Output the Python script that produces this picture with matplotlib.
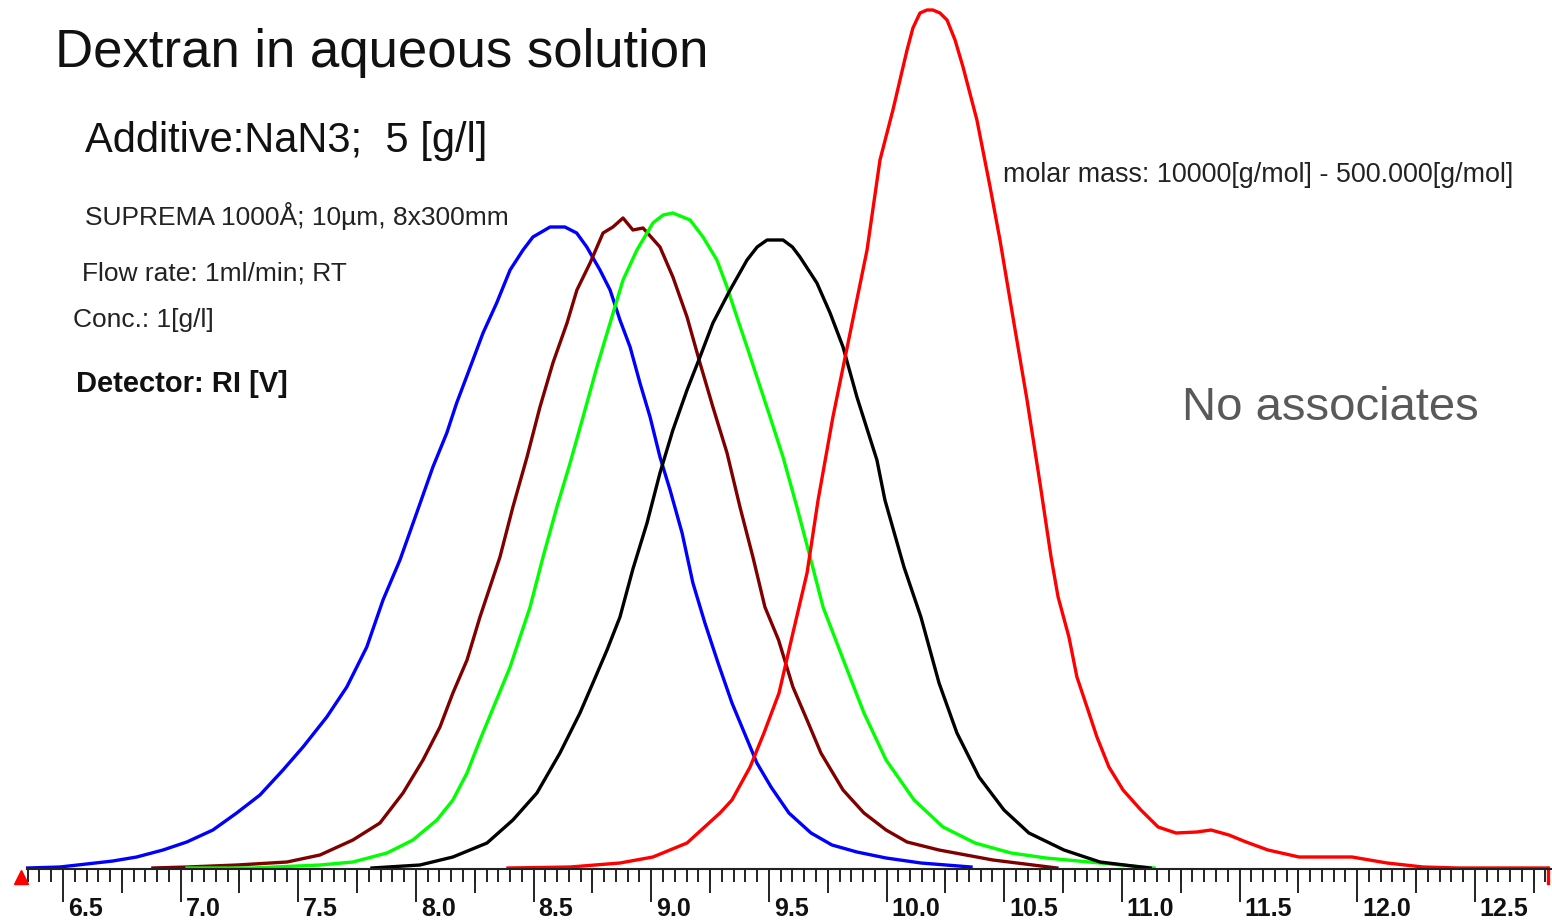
import matplotlib.pyplot as plt
import matplotlib.transforms as mtransforms
from matplotlib.ticker import MultipleLocator

plt.rcParams['font.family'] = ['Liberation Sans', 'DejaVu Sans']

# RI traces: elution volume [ml] and detector signal [mV]
blue_x = [6.35, 6.487, 6.60, 6.712, 6.813, 6.925, 7.026, 7.137, 7.238, 7.337,
          7.435, 7.520, 7.621, 7.706, 7.791, 7.860, 7.932, 8.003, 8.072, 8.131,
          8.173, 8.242, 8.285, 8.343, 8.400, 8.455, 8.497, 8.570, 8.633, 8.683,
          8.726, 8.782, 8.825, 8.867, 8.910, 8.952, 8.995, 9.037, 9.080, 9.131,
          9.177, 9.228, 9.284, 9.343, 9.403, 9.449, 9.509, 9.585, 9.679, 9.768,
          9.874, 9.998, 10.146, 10.359]
blue_y = [1, 2, 5, 8, 12, 19, 27, 39, 56, 74,
          99, 122, 152, 182, 222, 269, 309, 356, 402, 436,
          466, 509, 536, 566, 599, 619, 632, 642, 642, 636,
          622, 599, 579, 549, 522, 486, 452, 412, 379, 336,
          286, 246, 206, 166, 132, 106, 82, 56, 36, 24,
          17, 11, 6, 2]

brown_x = [6.882, 7.027, 7.240, 7.452, 7.592, 7.732, 7.847, 7.945, 8.030, 8.102,
           8.157, 8.217, 8.272, 8.357, 8.412, 8.472, 8.527, 8.582, 8.642, 8.684,
           8.740, 8.795, 8.837, 8.880, 8.922, 8.965, 9.037, 9.092, 9.152, 9.207,
           9.262, 9.322, 9.377, 9.432, 9.483, 9.541, 9.602, 9.662, 9.721, 9.815,
           9.904, 9.998, 10.087, 10.223, 10.452, 10.724]
brown_y = [1, 2, 4, 7, 14, 29, 46, 76, 109, 142,
           176, 209, 252, 312, 362, 412, 462, 506, 546, 579,
           606, 636, 642, 651, 639, 641, 622, 592, 552, 506,
           462, 416, 362, 312, 262, 229, 182, 149, 116, 79,
           56, 39, 27, 19, 9, 1]

green_x = [7.027, 7.307, 7.592, 7.732, 7.877, 7.987, 8.089, 8.157, 8.217, 8.272,
           8.400, 8.485, 8.540, 8.599, 8.655, 8.710, 8.769, 8.825, 8.880, 8.939,
           9.007, 9.050, 9.092, 9.165, 9.220, 9.279, 9.322, 9.364, 9.407, 9.449,
           9.505, 9.560, 9.619, 9.675, 9.730, 9.828, 9.904, 9.998, 10.117, 10.240,
           10.376, 10.529, 10.678, 10.907, 11.137]
green_y = [1, 1, 4, 7, 16, 29, 49, 69, 96, 129,
           202, 262, 312, 362, 406, 452, 502, 546, 589, 619,
           646, 654, 656, 649, 632, 609, 582, 552, 522, 492,
           452, 412, 362, 312, 262, 202, 156, 109, 69, 42,
           26, 16, 11, 6, 1]

black_x = [7.813, 8.017, 8.157, 8.302, 8.412, 8.514, 8.612, 8.697, 8.752, 8.812,
           8.867, 8.922, 8.982, 9.037, 9.092, 9.152, 9.207, 9.262, 9.335, 9.407,
           9.450, 9.492, 9.560, 9.600, 9.632, 9.704, 9.760, 9.815, 9.874, 9.959,
           9.993, 10.074, 10.146, 10.223, 10.299, 10.393, 10.499, 10.605, 10.754, 10.907,
           11.081, 11.12]
black_y = [1, 4, 12, 26, 49, 76, 116, 156, 186, 219,
           252, 300, 346, 396, 439, 479, 512, 546, 579, 609,
           622, 629, 629, 622, 612, 586, 556, 522, 472, 409,
           369, 302, 252, 186, 136, 92, 59, 36, 19, 7,
           2, 1]

red_x = [8.391, 8.655, 8.867, 9.007, 9.152, 9.292, 9.343, 9.420, 9.479, 9.543,
         9.602, 9.662, 9.709, 9.772, 9.845, 9.917, 9.972, 10.027, 10.087, 10.112,
         10.142, 10.172, 10.197, 10.227, 10.257, 10.291, 10.325, 10.384, 10.440, 10.482,
         10.537, 10.597, 10.652, 10.699, 10.729, 10.775, 10.809, 10.856, 10.894, 10.945,
         11.005, 11.081, 11.154, 11.230, 11.319, 11.379, 11.455, 11.528, 11.621, 11.753,
         11.978, 12.127, 12.280, 12.429, 12.811]
red_y = [1, 2, 6, 12, 26, 56, 69, 102, 136, 176,
         236, 296, 369, 452, 536, 619, 709, 759, 819, 841,
         856, 859, 859, 856, 849, 829, 802, 749, 682, 629,
         552, 469, 386, 312, 272, 232, 192, 159, 132, 102,
         79, 59, 42, 36, 37, 39, 34, 27, 19, 12,
         12, 6, 2, 1, 1]

run_start = 6.32
tick_values = [6.5, 7.0, 7.5, 8.0, 8.5, 9.0, 9.5, 10.0, 10.5, 11.0, 11.5, 12.0, 12.5]
tick_labels = ['6.5', '7.0', '7.5', '8.0', '8.5', '9.0', '9.5', '10.0',
               '10.5', '11.0', '11.5', '12.0', '12.5']
mid_ticks = [6.75, 7.25, 7.75, 8.25, 8.75, 9.25, 9.75, 10.25, 10.75,
             11.25, 11.75, 12.25, 12.75]

W, H = 1552, 924
fig = plt.figure(figsize=(W / 100, H / 100), dpi=100)
ax = fig.add_axes([27 / W, 55 / H, 1 - 27 / W, 869 / H])
ax.set_xlim(6.347, 12.828)
ax.set_ylim(0, 869)

for side in ['left', 'top', 'right']:
    ax.spines[side].set_visible(False)
ax.spines['bottom'].set_linewidth(1.5)
ax.spines['bottom'].set_color('#222222')
ax.yaxis.set_visible(False)

# scale: long ticks every 0.5, medium at the quarters, short every 0.05
ax.set_xticks(tick_values)
ax.xaxis.set_minor_locator(MultipleLocator(0.05))
ax.tick_params(axis='x', which='major', length=23.5, width=1.4, color='#222222',
               pad=-3, labelsize=18, labelcolor='#111111')
ax.tick_params(axis='x', which='minor', length=9, width=1.4, color='#222222')
ax.set_xticklabels(tick_labels, ha='left', fontweight='bold')
shift = mtransforms.ScaledTranslation(5 / 100, 0, fig.dpi_scale_trans)
for lab in ax.get_xticklabels():
    lab.set_transform(lab.get_transform() + shift)

sec = ax.secondary_xaxis('bottom')
sec.set_xticks(mid_ticks)
sec.tick_params(axis='x', length=17, width=1.4, color='#222222', labelbottom=False)
sec.spines['bottom'].set_visible(False)

lw = 2.4
ax.plot(blue_x, blue_y, color='#0000ff', lw=lw, clip_on=False)
ax.plot(brown_x, brown_y, color='#800000', lw=lw, clip_on=False)
ax.plot(green_x, green_y, color='#00ff00', lw=lw, clip_on=False)
ax.plot(black_x, black_y, color='#000000', lw=lw, clip_on=False)
ax.plot(red_x, red_y, color='#ff0000', lw=lw, clip_on=False)

# start / end markers of the run
ax.plot([run_start], [-8], marker='^', color='#ff0000', ms=10, clip_on=False)
ax.plot([red_x[-1], red_x[-1]], [red_y[-1], -14], color='#ff0000', lw=lw, clip_on=False)

fig.text(55 / W, 1 - 67 / H, 'Dextran in aqueous solution', fontsize=38,
         va='baseline', color='#111111')
fig.text(85 / W, 1 - 152 / H, 'Additive:NaN3;  5 [g/l]', fontsize=30,
         va='baseline', color='#111111')
fig.text(85 / W, 1 - 225 / H, 'SUPREMA 1000Å; 10µm, 8x300mm', fontsize=19,
         va='baseline', color='#222222')
fig.text(82 / W, 1 - 280 / H, 'Flow rate: 1ml/min; RT', fontsize=19,
         va='baseline', color='#222222')
fig.text(73 / W, 1 - 327 / H, 'Conc.: 1[g/l]', fontsize=19,
         va='baseline', color='#222222')
fig.text(76 / W, 1 - 392 / H, 'Detector: RI [V]', fontsize=21, fontweight='bold',
         va='baseline', color='#111111')
fig.text(1003 / W, 1 - 182 / H, 'molar mass: 10000[g/mol] - 500.000[g/mol]',
         fontsize=19.4, va='baseline', color='#222222')
fig.text(1182 / W, 1 - 420 / H, 'No associates', fontsize=34,
         va='baseline', color='#595959')

fig.savefig('out.png', dpi=100)
